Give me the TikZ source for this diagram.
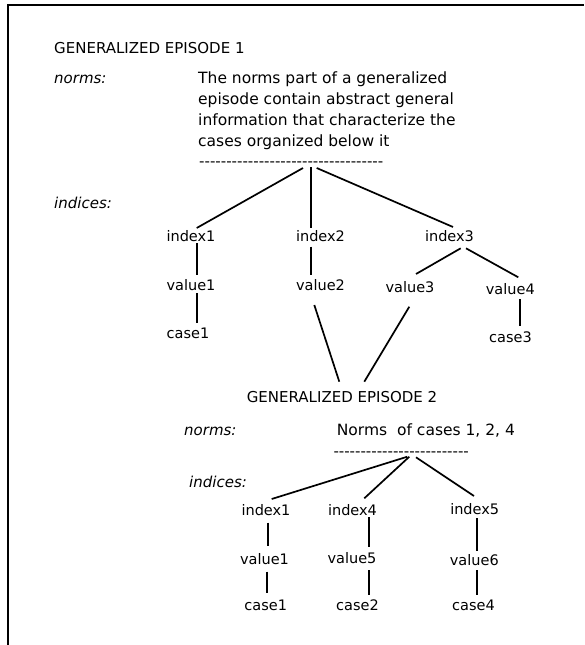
\documentclass[tikz,border=0pt]{standalone}
\usepackage{fontspec}
\newfontfamily\df{DejaVu Sans}
\usetikzlibrary{calc}
\begin{document}
\begin{tikzpicture}[x=1pt,y=-1pt,
  lbl/.style={inner sep=0pt, font=\df\fontsize{14.5}{21}\selectfont},
  ttl/.style={inner sep=0pt, font=\df\fontsize{15}{21}\selectfont},
  itl/.style={inner sep=0pt, font=\df\fontsize{15}{21}\selectfont\itshape},
  para/.style={inner sep=0pt, align=left, font=\df\fontsize{15.5}{21}\selectfont},
  dsh/.style={inner sep=0pt, font=\df\fontsize{15}{21}\selectfont},
  conn/.style={line width=1.7pt, black},
  frame/.style={line width=1.8pt, black}]
\useasboundingbox (0,0) rectangle (584,645);
\draw[frame] (8,645) -- (8,5) -- (584,5);

% ---------- Episode 1 ----------
\node[ttl, anchor=base west] (t1) at (54,53) {GENERALIZED EPISODE 1};
\node[itl, anchor=base west] (n1) at (54,83) {norms:};
\node[para, anchor=north west] (p1) at (198,71.5) {The norms part of a generalized\\episode contain abstract general\\information that characterize the\\cases organized below it};
\node[dsh, anchor=base west] (d1) at (199,166) {----------------------------------};
\node[itl, anchor=base west] (x1) at (54,208) {indices:};

\node[lbl, anchor=base] (i1) at (191,241.5) {index1};
\node[lbl, anchor=base] (i2) at (320.5,241.5) {index2};
\node[lbl, anchor=base] (i3) at (449.5,241.5) {index3};
\node[lbl, anchor=base] (v1) at (191,290.5) {value1};
\node[lbl, anchor=base] (v2) at (320.5,290.5) {value2};
\node[lbl, anchor=base] (v3) at (410,292) {value3};
\node[lbl, anchor=base] (v4) at (510.3,294) {value4};
\node[lbl, anchor=base] (c1) at (188,338.5) {case1};
\node[lbl, anchor=base] (c3) at (510.5,342) {case3};

\draw[conn] ($(d1.base west)+(104,2)$) -- ($(i1.base)+(5.7,-13.5)$);
\draw[conn] ($(d1.base west)+(111.7,1)$) -- ($(i2.base)+(-9.8,-13.5)$);
\draw[conn] ($(d1.base west)+(117.7,2)$) -- ($(i3.base)+(3.5,-14.5)$);
\draw[conn] ($(i1.base)+(5.7,1.5)$) -- ($(v1.base)+(5.7,-15.5)$);
\draw[conn] ($(v1.base)+(5.7,2.5)$) -- ($(c1.base)+(8.7,-15.5)$);
\draw[conn] ($(i2.base)+(-9.8,5.2)$) -- ($(v2.base)+(-9.8,-15.5)$);
\draw[conn] ($(i3.base)+(11.2,6.8)$) -- ($(v3.base)+(6,-18)$);
\draw[conn] ($(i3.base)+(16.5,6.8)$) -- ($(v4.base)+(8,-16.7)$);
\draw[conn] ($(v4.base)+(9.7,5.3)$) -- ($(c3.base)+(9.5,-16)$);

% ---------- Episode 2 ----------
\node[ttl, anchor=base] (t2) at (342,402.5) {GENERALIZED EPISODE 2};
\draw[conn] ($(v2.base)+(-6.2,14.5)$) -- ($(t2.base)+(-2.7,-20.8)$);
\draw[conn] ($(v3.base)+(-0.7,14.7)$) -- ($(t2.base)+(22.3,-20.8)$);

\node[itl, anchor=base west] (n2) at (184,435) {norms:};
\node[para, anchor=base west] (p2) at (336.7,435.5) {Norms\ \ of cases 1, 2, 4};
\node[dsh, anchor=base west] (d2) at (333.3,456) {-------------------------};
\node[itl, anchor=base west] (x2) at (189,487) {indices:};

\node[lbl, anchor=base] (li1) at (266,515.5) {index1};
\node[lbl, anchor=base] (li4) at (352.5,515.5) {index4};
\node[lbl, anchor=base] (li5) at (474.7,514.5) {index5};
\node[lbl, anchor=base] (lv1) at (264.5,564.8) {value1};
\node[lbl, anchor=base] (lv5) at (352,563.5) {value5};
\node[lbl, anchor=base] (lv6) at (474.3,565.5) {value6};
\node[lbl, anchor=base] (lc1) at (265.7,610.5) {case1};
\node[lbl, anchor=base] (lc2) at (357.5,610.5) {case2};
\node[lbl, anchor=base] (lc4) at (473.5,610.5) {case4};

\draw[conn] ($(d2.base west)+(74,0.7)$) -- ($(li1.base)+(5.7,-16.5)$);
\draw[conn] ($(d2.base west)+(76,0.7)$) -- ($(li4.base)+(11.8,-17.2)$);
\draw[conn] ($(d2.base west)+(82.7,1.3)$) -- ($(li5.base)+(-0.7,-18.5)$);
\draw[conn] ($(li1.base)+(1.7,7.2)$) -- ($(lv1.base)+(3.2,-18.8)$);
\draw[conn] ($(lv1.base)+(2.2,6.9)$) -- ($(lc1.base)+(1,-17.2)$);
\draw[conn] ($(li4.base)+(16.5,1.8)$) -- ($(lv5.base)+(17,-16.8)$);
\draw[conn] ($(lv5.base)+(17,6.5)$) -- ($(lc2.base)+(11.5,-15.5)$);
\draw[conn] ($(li5.base)+(2.6,3.8)$) -- ($(lv6.base)+(3,-14.5)$);
\draw[conn] ($(lv6.base)+(3,4.5)$) -- ($(lc4.base)+(3.8,-15.5)$);
\end{tikzpicture}
\end{document}
